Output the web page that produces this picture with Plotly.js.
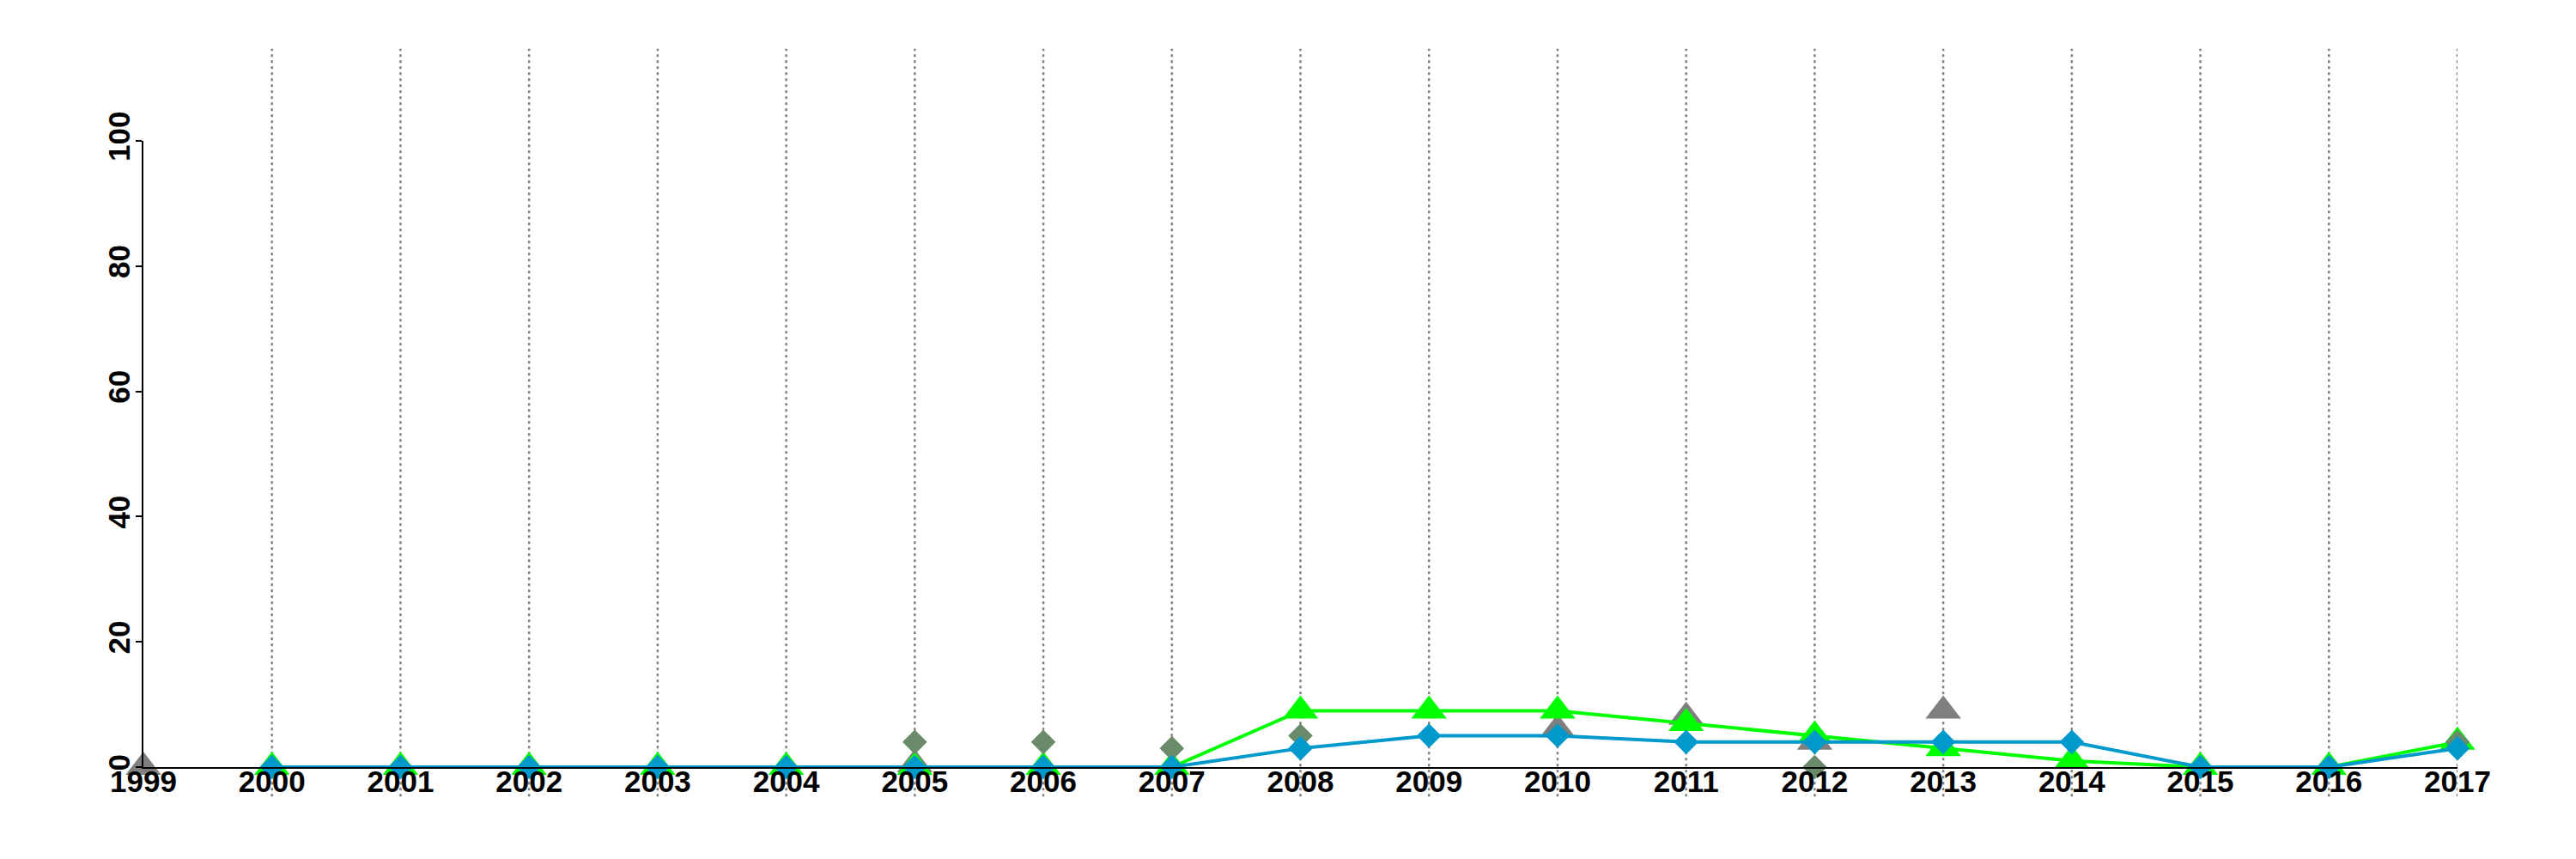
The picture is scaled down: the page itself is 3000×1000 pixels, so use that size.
<!DOCTYPE html>
<html>
<head>
<meta charset="utf-8">
<script src="https://cdn.plot.ly/plotly-3.0.1.min.js"></script>
<style>html,body{margin:0;padding:0;background:#fff;}#chart{width:3000px;height:1000px;}</style>
</head>
<body>
<div id="chart"></div>
<script>
const years = [1999,2000,2001,2002,2003,2004,2005,2006,2007,2008,2009,2010,2011,2012,2013,2014,2015,2016,2017];
const gridYears = [2000,2001,2002,2003,2004,2005,2006,2007,2008,2009,2010,2011,2012,2013,2014,2015,2016,2017];
const greenSeries = [null,0,0,0,0,0,0,0,0,9,9,9,7,5,3,1,0,0,4];
const blueSeries  = [null,0,0,0,0,0,0,0,0,3,5,5,4,4,4,4,0,0,3];
const graySeries  = [0,null,null,null,null,null,0.4,null,null,null,null,6,8,4,9,null,null,null,null];
const darkSeries  = [null,null,null,null,null,null,4,4,3,5,null,null,null,0,null,null,null,null,4];
const yTicks = [0,20,40,60,80,100];

const fontFam = 'Liberation Sans, Arial, sans-serif';

const traces = [
  {x: years, y: graySeries, type: 'scatter', mode: 'markers', cliponaxis: false,
   marker: {symbol: 'triangle-up', size: 36, color: '#7f7f7f'}, hoverinfo: 'skip'},
  {x: years, y: greenSeries, type: 'scatter', mode: 'lines+markers', cliponaxis: false,
   line: {color: '#00ff00', width: 4}, marker: {symbol: 'triangle-up', size: 36, color: '#00ff00'}},
  {x: years, y: darkSeries, type: 'scatter', mode: 'markers', cliponaxis: false,
   marker: {symbol: 'diamond', size: 22, color: '#698b69'}},
  {x: years, y: blueSeries, type: 'scatter', mode: 'lines+markers', cliponaxis: false,
   line: {color: '#0099cc', width: 4}, marker: {symbol: 'diamond', size: 22, color: '#0099cc'}}
];

const shapes = gridYears.map(yr => ({
  type: 'line', xref: 'x', yref: 'paper', x0: yr, x1: yr, y0: -0.047, y1: 1.147,
  line: {color: '#7f7f7f', width: 2.5, dash: '3px,4px'}, layer: 'below'
}));

const layout = {
  width: 3000, height: 1000,
  margin: {l: 167, r: 138, t: 164, b: 107, pad: 0},
  paper_bgcolor: '#ffffff', plot_bgcolor: '#ffffff',
  showlegend: false,
  font: {family: fontFam, color: '#000', size: 34, weight: 'bold'},
  xaxis: {
    range: [1999, 2017], tickmode: 'array', tickvals: years, ticktext: years.map(String),
    showgrid: false, zeroline: false, showline: true, linecolor: '#000', linewidth: 2,
    ticks: '', tickangle: 0, ticklabelstandoff: -15,
    tickfont: {family: fontFam, size: 35, color: '#000', weight: 'bold'}
  },
  yaxis: {
    range: [0, 100], tickmode: 'array', tickvals: yTicks,
    showgrid: false, zeroline: false, showline: true, linecolor: '#000', linewidth: 2,
    ticks: 'outside', ticklen: 7, tickwidth: 2, tickcolor: '#000', tickangle: -90,
    ticklabelstandoff: -7,
    tickfont: {family: fontFam, size: 35, color: '#000', weight: 'bold'}
  },
  shapes: shapes
};

Plotly.newPlot('chart', traces, layout, {staticPlot: true});
</script>
</body>
</html>
